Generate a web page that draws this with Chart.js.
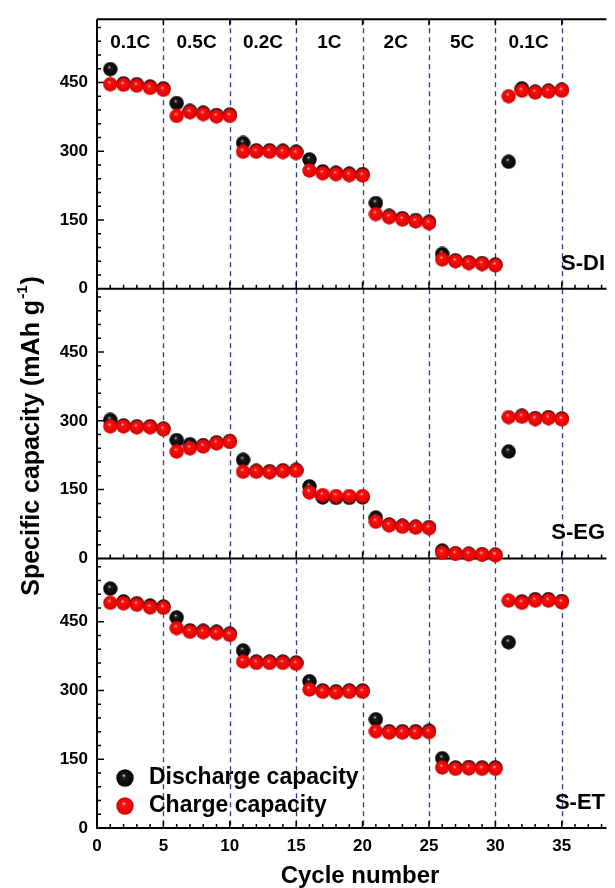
<!DOCTYPE html>
<html>
<head>
<meta charset="utf-8">
<title>Rate capability</title>
<script src="https://cdn.jsdelivr.net/npm/chart.js@4"></script>
<style>
  html, body { margin: 0; padding: 0; background: #fff; }
  #rate-chart { display: block; }
</style>
</head>
<body>
<canvas id="rate-chart" width="615" height="888"></canvas>
<script>
// cycle index shared by every panel
var cycles = [1, 2, 3, 4, 5, 6, 7, 8, 9, 10, 11, 12, 13, 14, 15, 16, 17, 18, 19, 20,
              21, 22, 23, 24, 25, 26, 27, 28, 29, 30, 31, 32, 33, 34, 35];

// S-DI
var diDischarge = [479, 448, 446, 441, 437, 405, 388, 384, 379, 380, 318, 302, 302, 301, 299,
                   282, 256, 253, 251, 250, 187, 159, 154, 150, 146, 76, 62, 58, 56, 53,
                   277, 437, 430, 432, 434];
var diCharge = [446, 445, 443, 438, 434, 377, 385, 381, 376, 377, 299, 299, 299, 298, 296,
                258, 252, 250, 248, 247, 163, 156, 151, 147, 143, 64, 60, 56, 54, 51,
                420, 432, 428, 430, 432];

// S-EG
var egDischarge = [302, 290, 288, 288, 283, 258, 249, 247, 253, 256, 215, 191, 190, 192, 193,
                   157, 133, 132, 132, 133, 89, 74, 71, 69, 68, 17, 11, 10, 9, 8,
                   233, 311, 306, 308, 305];
var egCharge = [288, 288, 286, 286, 281, 233, 240, 244, 251, 254, 189, 189, 188, 190, 191,
                144, 138, 136, 136, 136, 80, 72, 69, 67, 66, 12, 10, 9, 8, 7,
                308, 309, 304, 306, 303];

// S-ET
var etDischarge = [522, 494, 490, 485, 483, 459, 431, 430, 428, 424, 387, 363, 363, 363, 361,
                   320, 300, 298, 300, 300, 237, 211, 211, 211, 212, 152, 132, 133, 132, 132,
                   405, 494, 499, 499, 495];
var etCharge = [491, 490, 487, 481, 480, 436, 428, 427, 425, 421, 363, 360, 360, 360, 358,
                302, 297, 295, 297, 297, 211, 208, 208, 208, 209, 132, 129, 130, 129, 129,
                496, 491, 496, 496, 492];

var panelNames = ['S-DI', 'S-EG', 'S-ET'];
var rateLabels = ['0.1C', '0.5C', '0.2C', '1C', '2C', '5C', '0.1C'];
var stepBounds = [5, 10, 15, 20, 25, 30, 35];
var xTicks = [0, 5, 10, 15, 20, 25, 30, 35];
var yTicks = [0, 150, 300, 450];
var legendLabels = ['Discharge capacity', 'Charge capacity'];

var FONT = '"Liberation Sans", Arial, sans-serif';
var Y_MAX = 588;
var X_MAX = 38.37;

// shaded ball used as point marker
function makeBall(size, base, mid, light) {
  var c = document.createElement('canvas');
  c.width = size; c.height = size;
  var g = c.getContext('2d');
  var r = size / 2;
  var grad = g.createRadialGradient(r * 0.85, r * 0.7, 0, r, r, r);
  grad.addColorStop(0, light);
  grad.addColorStop(0.22, mid);
  grad.addColorStop(1, base);
  g.fillStyle = grad;
  g.beginPath();
  g.arc(r, r, r - 0.3, 0, Math.PI * 2);
  g.fill();
  return c;
}

var blackBall = makeBall(15, '#000000', '#1c1c1c', '#e0e0e0');
var redBall = makeBall(15, '#d80000', '#ff1010', '#ffe0e0');
var blackBallBig = makeBall(18, '#000000', '#1c1c1c', '#e0e0e0');
var redBallBig = makeBall(18, '#d80000', '#ff1010', '#ffe0e0');

function toPoints(values) {
  return values.map(function(v, i) { return { x: cycles[i], y: v }; });
}

function series(values, axis, ball, order) {
  return {
    data: toPoints(values),
    yAxisID: axis,
    showLine: false,
    pointStyle: ball,
    pointRadius: 7.5,
    pointHoverRadius: 7.5,
    order: order,
    clip: false
  };
}

function yAxis() {
  return {
    type: 'linear',
    position: 'left',
    stack: 'capacity',
    stackWeight: 1,
    min: 0,
    max: Y_MAX,
    grid: { display: false, drawTicks: false },
    border: { display: false },
    ticks: { color: '#000', font: { family: FONT, size: 17, weight: 'bold' }, padding: 9 },
    afterBuildTicks: function(scale) {
      scale.ticks = yTicks.map(function(v) { return { value: v }; });
    },
    afterFit: function(scale) { scale.width = 97; }
  };
}

var panelAxes = ['yTop', 'yMid', 'yBot'];

var framePlugin = {
  id: 'frame',
  beforeDatasetsDraw: function(chart) {
    var ctx = chart.ctx;
    var area = chart.chartArea;
    var xs = chart.scales.x;
    ctx.save();

    // dashed rate-step separators
    ctx.strokeStyle = '#3434a0';
    ctx.lineWidth = 1.3;
    ctx.setLineDash([5, 4]);
    stepBounds.forEach(function(v) {
      var px = Math.round(xs.getPixelForValue(v)) + 0.5;
      ctx.beginPath();
      ctx.moveTo(px, area.top);
      ctx.lineTo(px, area.bottom);
      ctx.stroke();
    });
    ctx.setLineDash([]);

    ctx.strokeStyle = '#000';
    ctx.lineWidth = 2;
    // outer frame: top and left
    ctx.beginPath();
    ctx.moveTo(area.left, area.top);
    ctx.lineTo(area.right, area.top);
    ctx.moveTo(area.left, area.top);
    ctx.lineTo(area.left, area.bottom + 1);
    ctx.stroke();

    ctx.lineWidth = 1.5;
    // top ticks point down
    ctx.beginPath();
    stepBounds.forEach(function(v) {
      var px = xs.getPixelForValue(v);
      ctx.moveTo(px, area.top);
      ctx.lineTo(px, area.top + 6);
    });
    ctx.stroke();

    panelAxes.forEach(function(id) {
      var ys = chart.scales[id];
      var bottom = ys.bottom;
      ctx.lineWidth = 2;
      ctx.beginPath();
      ctx.moveTo(area.left, bottom);
      ctx.lineTo(area.right, bottom);
      ctx.stroke();

      ctx.lineWidth = 1.5;
      ctx.beginPath();
      for (var c = 1; c <= Math.floor(X_MAX); c++) {
        var px = xs.getPixelForValue(c);
        ctx.moveTo(px, bottom);
        ctx.lineTo(px, bottom - (c % 5 === 0 ? 7 : 4));
      }
      for (var v = 30; v < Y_MAX; v += 30) {
        var py = ys.getPixelForValue(v);
        ctx.moveTo(area.left, py);
        ctx.lineTo(area.left + (v % 150 === 0 ? 7 : 4), py);
      }
      ctx.stroke();
    });
    ctx.restore();
  },
  afterDatasetsDraw: function(chart) {
    var ctx = chart.ctx;
    var xs = chart.scales.x;
    ctx.save();
    ctx.fillStyle = '#000';

    // C-rate labels along the top panel
    ctx.font = 'bold 19px ' + FONT;
    ctx.textAlign = 'center';
    ctx.textBaseline = 'middle';
    rateLabels.forEach(function(t, i) {
      ctx.fillText(t, xs.getPixelForValue(i * 5 + 2.5), 43);
    });

    // sample names
    ctx.font = 'bold 22px ' + FONT;
    ctx.textAlign = 'right';
    panelAxes.forEach(function(id, i) {
      var ys = chart.scales[id];
      ctx.fillText(panelNames[i], 605, ys.bottom - 25);
    });

    // legend inside the bottom panel
    ctx.font = 'bold 23px ' + FONT;
    ctx.textAlign = 'left';
    var balls = [blackBallBig, redBallBig];
    [778, 806].forEach(function(y, i) {
      ctx.drawImage(balls[i], 125 - 9, y - 9);
      ctx.fillText(legendLabels[i], 149, y);
    });

    // axis titles
    ctx.textAlign = 'center';
    ctx.font = 'bold 24px ' + FONT;
    ctx.fillText('Cycle number', 360, 876);

    ctx.translate(32, 437);
    ctx.rotate(-Math.PI / 2);
    var main = 'Specific capacity (mAh g';
    var sup = '-1';
    var tail = ')';
    ctx.font = 'bold 25px ' + FONT;
    var w1 = ctx.measureText(main).width;
    var w3 = ctx.measureText(tail).width;
    ctx.font = 'bold 15px ' + FONT;
    var w2 = ctx.measureText(sup).width;
    var start = -(w1 + w2 + w3) / 2;
    ctx.textAlign = 'left';
    ctx.font = 'bold 25px ' + FONT;
    ctx.fillText(main, start, 0);
    ctx.font = 'bold 15px ' + FONT;
    ctx.fillText(sup, start + w1 + 1, -9);
    ctx.font = 'bold 25px ' + FONT;
    ctx.fillText(tail, start + w1 + w2 + 2, 0);
    ctx.restore();
  }
};

var scales = {
  x: {
    type: 'linear',
    position: 'bottom',
    min: 0,
    max: X_MAX,
    grid: { display: false, drawTicks: false },
    border: { display: false },
    ticks: { color: '#000', font: { family: FONT, size: 17, weight: 'bold' }, padding: 8 },
    afterBuildTicks: function(scale) {
      scale.ticks = xTicks.map(function(v) { return { value: v }; });
    },
    afterFit: function(scale) { scale.height = 60; }
  }
};
// left boxes are stacked in reverse, so the bottom panel is listed first
scales.yBot = yAxis();
scales.yMid = yAxis();
scales.yTop = yAxis();

new Chart(document.getElementById('rate-chart'), {
  type: 'scatter',
  data: {
    datasets: [
      series(diDischarge, 'yTop', blackBall, 1),
      series(diCharge, 'yTop', redBall, 0),
      series(egDischarge, 'yMid', blackBall, 1),
      series(egCharge, 'yMid', redBall, 0),
      series(etDischarge, 'yBot', blackBall, 1),
      series(etCharge, 'yBot', redBall, 0)
    ]
  },
  options: {
    responsive: false,
    animation: false,
    devicePixelRatio: 1,
    layout: { padding: { top: 17, right: 0, left: 0, bottom: 0 } },
    plugins: { legend: { display: false }, tooltip: { enabled: false } },
    scales: scales
  },
  plugins: [framePlugin]
});
</script>
</body>
</html>
